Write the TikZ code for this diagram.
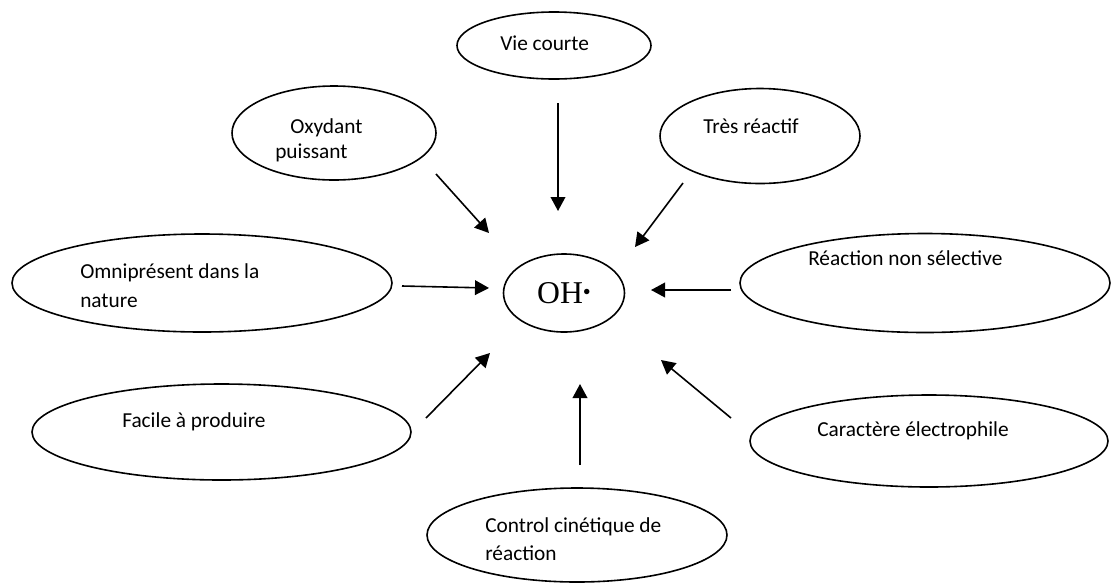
\documentclass[tikz,border=0pt]{standalone}
\usepackage{fontspec}
\setmainfont{Carlito}
\newfontfamily\ohfont{Liberation Serif}
\usetikzlibrary{shapes.geometric,arrows.meta}
\begin{document}
\begin{tikzpicture}[x=0.75pt,y=-0.75pt,
    bubble/.style={draw,ellipse,line width=1.2pt,inner sep=0pt},
    txt/.style={anchor=base west,inner sep=0pt,align=left,font=\fontsize{16}{18.75}\selectfont},
    arr/.style={line width=1.2pt,-{Triangle[length=10.5pt,width=11pt]}}]
  \useasboundingbox (0,0) rectangle (1111,583);
  % centre
  \node[bubble,minimum width=90.75pt,minimum height=58.5pt] (oh) at (564,293)
    {\ohfont\fontsize{23.8}{28}\selectfont OH\raisebox{2.6pt}{\fontsize{17}{17}\selectfont •}};
  % ellipses round it
  \node[bubble,minimum width=145.5pt,minimum height=50.25pt] (vie) at (554,45.5) {};
  \node[bubble,minimum width=153pt,minimum height=70.5pt] (oxy) at (334,133) {};
  \node[bubble,minimum width=150pt,minimum height=71.25pt] (tres) at (760,136) {};
  \node[bubble,minimum width=285pt,minimum height=73.5pt] (omni) at (202,283) {};
  \node[bubble,minimum width=277.5pt,minimum height=74.25pt] (nonsel) at (925,283) {};
  \node[bubble,minimum width=284.25pt,minimum height=72pt] (facile) at (221.5,432) {};
  \node[bubble,minimum width=268.5pt,minimum height=69pt] (elec) at (929,441) {};
  \node[bubble,minimum width=225pt,minimum height=70.5pt] (cin) at (577,535) {};
  % texts (two-line ones sit on the baseline of their last line)
  \node[txt] (vie-t) at (500,50) {Vie courte};
  \node[txt] (oxy-t) at (275,158) {\hspace*{11.25pt}Oxydant\\puissant};
  \node[txt] (tres-t) at (703,133) {Très réactif};
  \node[txt] (omni-t) at (80,307) {Omniprésent dans la\\[3pt]nature};
  \node[txt] (nonsel-t) at (808,265) {Réaction non sélective};
  \node[txt] (facile-t) at (122,427) {Facile à produire};
  \node[txt] (elec-t) at (817,436) {Caractère électrophile};
  \node[txt] (cin-t) at (485,560) {Control cinétique de\\[2.25pt]réaction};
  % arrow ends
  \coordinate (vie-a) at (558,103);   \coordinate (vie-b) at (558,211);
  \coordinate (oxy-a) at (436,174);   \coordinate (oxy-b) at (489,233);
  \coordinate (tres-a) at (683,183);  \coordinate (tres-b) at (635,247);
  \coordinate (omni-a) at (402,286);  \coordinate (omni-b) at (489,288);
  \coordinate (nonsel-a) at (731,290); \coordinate (nonsel-b) at (651,290);
  \coordinate (facile-a) at (426,418); \coordinate (facile-b) at (490,353);
  \coordinate (cin-a) at (580,465);   \coordinate (cin-b) at (580,384);
  \coordinate (elec-a) at (731,418);  \coordinate (elec-b) at (661,360);
  \draw[arr] (vie-a) -- (vie-b);
  \draw[arr] (oxy-a) -- (oxy-b);
  \draw[arr] (tres-a) -- (tres-b);
  \draw[arr] (omni-a) -- (omni-b);
  \draw[arr] (nonsel-a) -- (nonsel-b);
  \draw[arr] (facile-a) -- (facile-b);
  \draw[arr] (cin-a) -- (cin-b);
  \draw[arr] (elec-a) -- (elec-b);
\end{tikzpicture}
\end{document}
